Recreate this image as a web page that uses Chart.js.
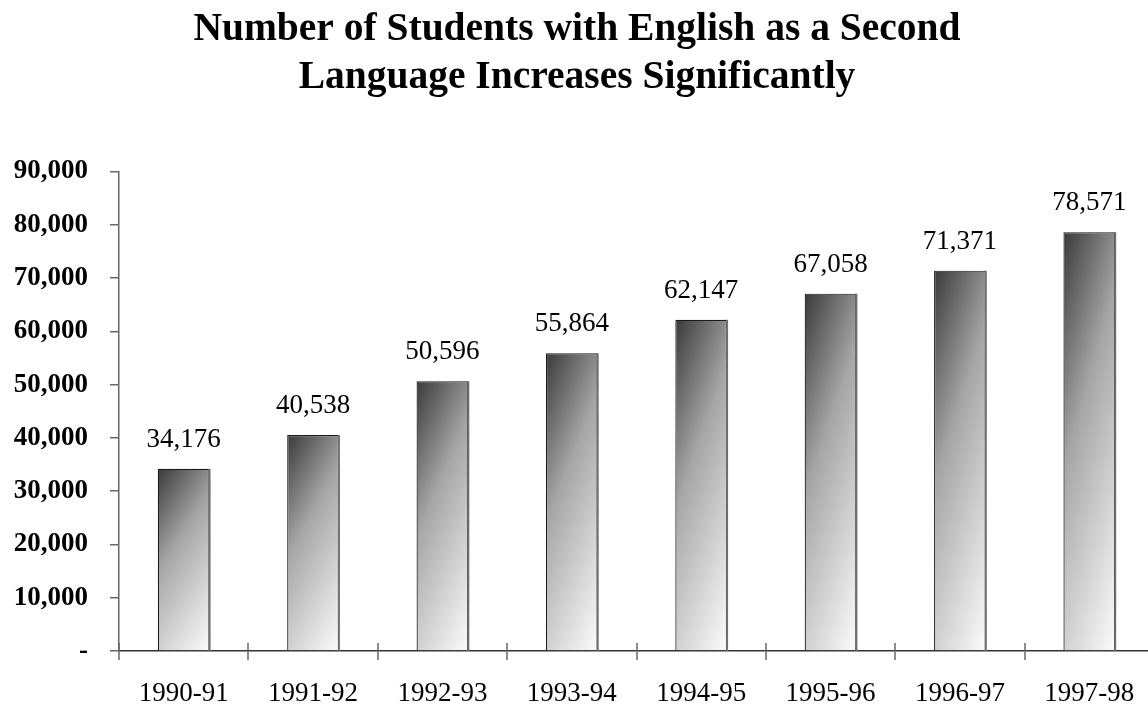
<!DOCTYPE html>
<html>
<head>
<meta charset="utf-8">
<title>ESL students</title>
<script src="https://cdn.jsdelivr.net/npm/chart.js@4.4.1/dist/chart.umd.min.js"></script>
<style>
  html, body { margin: 0; padding: 0; background: #fff; overflow: hidden; }
  #wrap { width: 1148px; height: 706px; overflow: hidden; }
</style>
</head>
<body>
<div id="wrap"><canvas id="chart" width="1154" height="706"></canvas></div>
<script>
const years = ['1990-91', '1991-92', '1992-93', '1993-94', '1994-95', '1995-96', '1996-97', '1997-98'];
const students = [34176, 40538, 50596, 55864, 62147, 67058, 71371, 78571];
const titleLines = ['Number of Students with English as a Second', 'Language Increases Significantly'];

const SERIF = "'Liberation Serif', 'Times New Roman', serif";

// shading inside each bar: t = 0.3*u + 0.7*v over the bar's own box,
// so mostly top-to-bottom with the left edge a little darker
function barGradient(context) {
  const chart = context.chart;
  if (context.type !== 'data' || !chart.chartArea) return '#999';
  const xs = chart.scales.x;
  const ys = chart.scales.y;
  const cx = xs.getPixelForValue(context.dataIndex);
  const w = (xs.getPixelForValue(1) - xs.getPixelForValue(0)) * 0.4;
  const left = cx - w / 2;
  const top = ys.getPixelForValue(students[context.dataIndex]);
  const h = ys.getPixelForValue(0) - top;
  const gx = 0.3 / w;
  const gy = 0.7 / h;
  const n = gx * gx + gy * gy;
  const g = chart.ctx.createLinearGradient(left, top, left + gx / n, top + gy / n);
  g.addColorStop(0, '#3a3a3a');
  g.addColorStop(0.4, '#a6a6a6');
  g.addColorStop(1, '#fcfcfc');
  return g;
}

const valueLabels = {
  id: 'valueLabels',
  afterDatasetsDraw(chart) {
    const ctx = chart.ctx;
    const meta = chart.getDatasetMeta(0);
    ctx.save();
    ctx.font = '27px ' + SERIF;
    ctx.fillStyle = '#000';
    ctx.textAlign = 'center';
    ctx.textBaseline = 'alphabetic';
    meta.data.forEach((bar, i) => {
      ctx.fillText(students[i].toLocaleString('en-US'), bar.x, bar.y - 22);
    });
    ctx.restore();
  }
};

// category boundary ticks that cross the x axis, plus the grey right edge of each bar
const crossTicks = {
  id: 'crossTicks',
  afterDraw(chart) {
    const ctx = chart.ctx;
    const xs = chart.scales.x;
    const y0 = chart.scales.y.getPixelForValue(0);
    ctx.save();
    ctx.strokeStyle = '#666';
    ctx.lineWidth = 1.5;
    for (let i = 0; i <= years.length; i++) {
      const px = Math.round(xs.getPixelForValue(i - 0.5));
      ctx.beginPath();
      ctx.moveTo(px, y0 - 8);
      ctx.lineTo(px, y0 + 9);
      ctx.stroke();
    }
    ctx.strokeStyle = '#707070';
    ctx.lineWidth = 2;
    chart.getDatasetMeta(0).data.forEach((bar) => {
      const rx = bar.x + bar.width / 2;
      ctx.beginPath();
      ctx.moveTo(rx, bar.y);
      ctx.lineTo(rx, y0);
      ctx.stroke();
    });
    ctx.restore();
  }
};

new Chart(document.getElementById('chart'), {
  type: 'bar',
  data: {
    labels: years,
    datasets: [{
      data: students,
      backgroundColor: barGradient,
      borderColor: '#1a1a1a',
      borderWidth: 1.2,
      borderSkipped: 'bottom',
      categoryPercentage: 1,
      barPercentage: 0.4
    }]
  },
  options: {
    responsive: false,
    animation: false,
    layout: { padding: 0 },
    plugins: {
      legend: { display: false },
      tooltip: { enabled: false },
      title: {
        display: true,
        text: titleLines,
        color: '#000',
        font: { family: SERIF, size: 39.5, weight: 'bold', lineHeight: 1.22 },
        padding: { top: 6, bottom: 69 }
      }
    },
    scales: {
      x: {
        offset: true,
        grid: { display: false, drawTicks: false },
        border: { display: true, color: '#333', width: 1.5 },
        ticks: {
          color: '#000',
          padding: 27,
          maxRotation: 0,
          font: { family: SERIF, size: 27 }
        },
        afterFit(scale) {
          scale.height = 55;
          scale.paddingLeft = 0;
          scale.paddingRight = 0;
        }
      },
      y: {
        min: 0,
        max: 90000,
        grid: { drawOnChartArea: false, tickLength: 9, color: '#666', lineWidth: 1.5 },
        border: { display: true, color: '#666', width: 1.5 },
        ticks: {
          stepSize: 10000,
          color: '#000',
          padding: 22,
          font: { family: SERIF, size: 27, weight: 'bold' },
          callback: (v) => v === 0 ? '-' : v.toLocaleString('en-US')
        },
        afterFit(scale) {
          scale.width = 119;
          scale.paddingTop = 0;
          scale.paddingBottom = 0;
        }
      }
    }
  },
  plugins: [valueLabels, crossTicks]
});
</script>
</body>
</html>
